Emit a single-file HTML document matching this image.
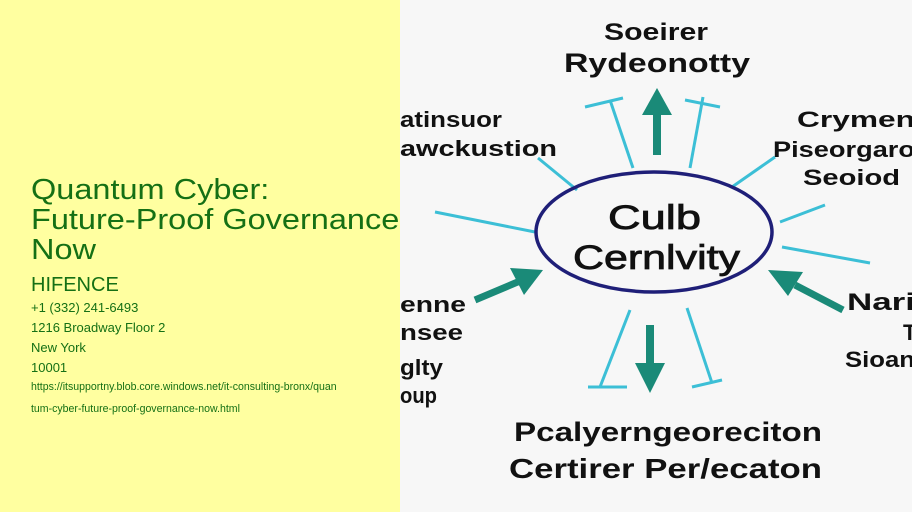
<!DOCTYPE html>
<html><head><meta charset="utf-8"><style>
body{margin:0;width:912px;height:512px;overflow:hidden;font-family:"Liberation Sans",sans-serif;}
#l{position:absolute;left:0;top:0;width:400px;height:512px;background:#ffffa0;color:#157015;}
#r{position:absolute;left:400px;top:0;width:512px;height:512px;background:#f7f7f7;}
.t{position:absolute;left:31px;font-size:29px;line-height:30px;top:175px;width:380px;white-space:nowrap;transform:scaleX(1.12);transform-origin:0 0}
.s{position:absolute;left:31px;white-space:nowrap}
</style></head><body>
<div id="l">
<div class="t">Quantum Cyber:<br>Future-Proof Governance<br>Now</div>
<div class="s" style="top:274px;font-size:20px">HIFENCE</div>
<div class="s" style="top:300px;font-size:13px">+1 (332) 241-6493</div>
<div class="s" style="top:320px;font-size:13px">1216 Broadway Floor 2</div>
<div class="s" style="top:340px;font-size:13px">New York</div>
<div class="s" style="top:360px;font-size:13px">10001</div>
<div class="s" style="top:381px;font-size:11px;transform:scaleX(0.96);transform-origin:0 0">https://itsupportny.blob.core.windows.net/it-consulting-bronx/quan</div>
<div class="s" style="top:403px;font-size:11px;transform:scaleX(0.96);transform-origin:0 0">tum-cyber-future-proof-governance-now.html</div>
</div>
<div id="r"></div>
<svg style="position:absolute;left:0;top:0" width="912" height="512">
<g stroke="#3cbfd6" stroke-width="3" fill="none">
<line x1="585" y1="107" x2="623" y2="98"/><line x1="610" y1="100" x2="633" y2="168"/>
<line x1="685" y1="100" x2="720" y2="107"/><line x1="703" y1="97" x2="690" y2="168"/>
<line x1="538" y1="158" x2="577" y2="190"/>
<line x1="775" y1="157" x2="732" y2="187"/>
<line x1="435" y1="212" x2="535" y2="232"/>
<line x1="825" y1="205" x2="780" y2="222"/>
<line x1="782" y1="247" x2="870" y2="263"/>
<line x1="630" y1="310" x2="600" y2="387"/><line x1="588" y1="387" x2="627" y2="387"/>
<line x1="687" y1="308" x2="712" y2="383"/><line x1="692" y1="387" x2="722" y2="380"/>
</g>
<g fill="#1a8a78" stroke="#1a8a78">
<line x1="657" y1="155" x2="657" y2="110" stroke-width="8"/><polygon points="642,115 672,115 657,88" stroke="none"/>
<line x1="650" y1="325" x2="650" y2="370" stroke-width="8"/><polygon points="635,363 665,363 650,393" stroke="none"/>
<line x1="475" y1="300" x2="520" y2="281" stroke-width="7"/><polygon points="510,268 524,295 543,270" stroke="none"/>
<line x1="843" y1="310" x2="795" y2="285" stroke-width="7"/><polygon points="768,270 803,272 788,296" stroke="none"/>
</g>
<ellipse cx="654" cy="232" rx="118" ry="60" fill="none" stroke="#1f1f78" stroke-width="3.5"/>
<g font-family="Liberation Sans,sans-serif" font-weight="bold" fill="#111" lengthAdjust="spacingAndGlyphs">
<text x="604" y="40" font-size="24" textLength="104" lengthAdjust="spacingAndGlyphs">Soeirer</text>
<text x="564" y="72" font-size="27" textLength="186" lengthAdjust="spacingAndGlyphs">Rydeonotty</text>
<text x="400" y="127" font-size="22" textLength="102" lengthAdjust="spacingAndGlyphs">atinsuor</text>
<text x="400" y="156" font-size="22" textLength="157" lengthAdjust="spacingAndGlyphs">awckustion</text>
<text x="797" y="127" font-size="22" textLength="118" lengthAdjust="spacingAndGlyphs">Crymen</text>
<text x="773" y="157" font-size="22" textLength="142" lengthAdjust="spacingAndGlyphs">Piseorgaro</text>
<text x="803" y="185" font-size="22" textLength="97" lengthAdjust="spacingAndGlyphs">Seoiod</text>
<text x="608" y="229" font-size="34" font-weight="normal" stroke="#111" stroke-width="0.8" textLength="93" lengthAdjust="spacingAndGlyphs">Culb</text>
<text x="573" y="269" font-size="34" font-weight="normal" stroke="#111" stroke-width="0.8" textLength="167" lengthAdjust="spacingAndGlyphs">Cernlvity</text>
<text x="400" y="312" font-size="22" textLength="66" lengthAdjust="spacingAndGlyphs">enne</text>
<text x="400" y="340" font-size="22" textLength="63" lengthAdjust="spacingAndGlyphs">nsee</text>
<text x="400" y="375" font-size="22" textLength="43" lengthAdjust="spacingAndGlyphs">glty</text>
<text x="400" y="403" font-size="22" textLength="37" lengthAdjust="spacingAndGlyphs">oup</text>
<text x="847" y="310" font-size="24" textLength="68" lengthAdjust="spacingAndGlyphs">Nari</text>
<text x="903" y="340" font-size="22">T</text>
<text x="845" y="367" font-size="22" textLength="70" lengthAdjust="spacingAndGlyphs">Sioan</text>
<text x="514" y="441" font-size="27" textLength="308" lengthAdjust="spacingAndGlyphs">Pcalyerngeoreciton</text>
<text x="509" y="478" font-size="28" textLength="313" lengthAdjust="spacingAndGlyphs">Certirer Per/ecaton</text>
</g>
</svg>
</body></html>
